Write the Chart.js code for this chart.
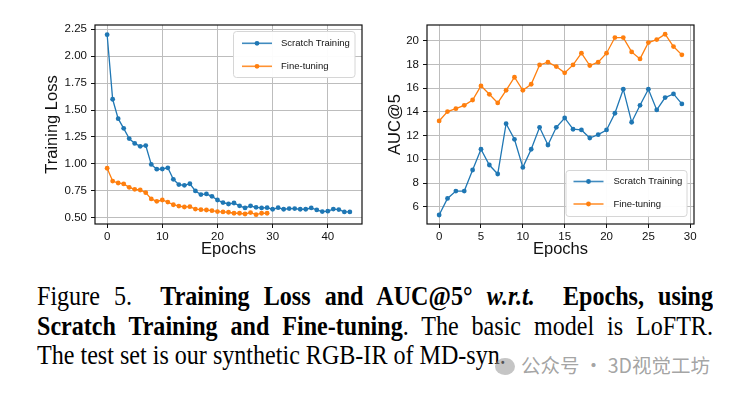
<!DOCTYPE html>
<html>
<head>
<meta charset="utf-8">
<script src="https://cdn.jsdelivr.net/npm/chart.js@4.4.1/dist/chart.umd.min.js"></script>
<style>
  body { margin: 0; background: #fff; width: 734px; height: 396px; overflow: hidden; position: relative; }
  #lossBox { position: absolute; left: 0; top: 0; }
  #aucBox { position: absolute; left: 370px; top: 0; }
  #caption { position: absolute; left: 37px; top: 281px; width: 786px; transform: scaleX(0.86); transform-origin: 0 0;
             font-family: "Liberation Serif", "Times New Roman", serif; font-size: 28px; line-height: 29.5px; color: #000; }
  .cap { text-align: justify; text-align-last: justify; }
  .cap.last { text-align-last: left; white-space: nowrap; }
  .wm { position: absolute; left: 495px; top: 353px; font-family: "Noto Sans CJK SC", sans-serif; font-size: 19.5px;
        line-height: 24px; color: rgba(140,140,140,0.8); white-space: nowrap; }
  .wm i { display: inline-block; width: 20px; height: 17px; border-radius: 50%; background: rgba(150,150,150,0.55);
          vertical-align: -2px; margin-right: 6px; }
</style>
</head>
<body>
<canvas id="lossBox" width="370" height="270"></canvas>
<canvas id="aucBox" width="364" height="270"></canvas>

<div id="caption">
  <div class="cap">Figure 5.&nbsp; <b>Training Loss and AUC@5° <i>w.r.t.</i>&nbsp; Epochs, using</b></div>
  <div class="cap"><b>Scratch Training and Fine-tuning</b>. The basic model is LoFTR.</div>
  <div class="cap last">The test set is our synthetic RGB-IR of MD-syn.</div>
</div>
<div class="wm"><i></i>公众号 · 3D视觉工坊</div>

<script>
/*************************************************
 * DATA
 *************************************************/
const SERIES_NAMES = ["Scratch Training", "Fine-tuning"];

// training loss per epoch
const LOSS_SCRATCH = [
  2.20, 1.60, 1.42, 1.33, 1.235, 1.19, 1.163, 1.17, 0.995, 0.95,
  0.952, 0.963, 0.856, 0.807, 0.80, 0.815, 0.748, 0.714, 0.72, 0.698,
  0.664, 0.64, 0.627, 0.636, 0.61, 0.59, 0.61, 0.596, 0.59, 0.593,
  0.578, 0.593, 0.578, 0.584, 0.584, 0.578, 0.578, 0.59, 0.572, 0.556,
  0.56, 0.58, 0.575, 0.553, 0.553
];
const LOSS_FINETUNE = [
  0.959, 0.84, 0.822, 0.813, 0.782, 0.763, 0.757, 0.732, 0.674, 0.652,
  0.664, 0.645, 0.62, 0.608, 0.599, 0.602, 0.58, 0.574, 0.571, 0.565,
  0.556, 0.553, 0.55, 0.541, 0.541, 0.534, 0.547, 0.528, 0.541, 0.541
];

// AUC@5 per epoch
const AUC_SCRATCH = [
  5.30, 6.70, 7.32, 7.32, 9.10, 10.85, 9.52, 8.76, 13.01, 11.69,
  9.32, 10.85, 12.70, 11.21, 12.70, 13.49, 12.54, 12.48, 11.80, 12.08,
  12.48, 13.89, 15.92, 13.13, 14.56, 15.92, 14.17, 15.21, 15.52, 14.68
];
const AUC_FINETUNE = [
  13.24, 14.03, 14.28, 14.56, 15.01, 16.20, 15.49, 14.76, 15.83, 16.93,
  15.83, 16.34, 17.97, 18.20, 17.83, 17.30, 17.97, 18.96, 17.92, 18.20,
  18.96, 20.28, 20.28, 19.07, 18.48, 19.86, 20.11, 20.56, 19.52, 18.82
];

const LOSS_X_TICKS = [0, 10, 20, 30, 40];
const LOSS_Y_TICKS = [0.50, 0.75, 1.00, 1.25, 1.50, 1.75, 2.00, 2.25];
const AUC_X_TICKS = [0, 5, 10, 15, 20, 25, 30];
const AUC_Y_TICKS = [6, 8, 10, 12, 14, 16, 18, 20];

const COLORS = ["#1f77b4", "#ff7f0e"];
const FONT = "'Liberation Sans', Arial, sans-serif";

/*************************************************
 * PLUGINS – frame + legend box
 *************************************************/
const framePlugin = {
  id: "frame",
  afterDraw(chart) {
    const { ctx, chartArea: a } = chart;
    ctx.save();
    ctx.strokeStyle = "#111";
    ctx.lineWidth = 1.2;
    ctx.strokeRect(a.left, a.top, a.right - a.left, a.bottom - a.top);
    ctx.restore();
  }
};

const boxLegendPlugin = {
  id: "boxLegend",
  afterDraw(chart, args, opt) {
    const ctx = chart.ctx;
    ctx.save();
    ctx.beginPath();
    ctx.roundRect(opt.x, opt.y, opt.w, opt.h, 3);
    ctx.fillStyle = "rgba(255,255,255,0.95)";
    ctx.fill();
    ctx.strokeStyle = "#d6d6d6";
    ctx.lineWidth = 1;
    ctx.stroke();

    chart.data.datasets.forEach((ds, i) => {
      const y = opt.rows[i];
      ctx.strokeStyle = ds.borderColor;
      ctx.globalAlpha = 0.85;
      ctx.lineWidth = 1.6;
      ctx.beginPath();
      ctx.moveTo(opt.x0, y);
      ctx.lineTo(opt.x1, y);
      ctx.stroke();
      ctx.globalAlpha = 1;
      ctx.fillStyle = ds.borderColor;
      ctx.beginPath();
      ctx.arc((opt.x0 + opt.x1) / 2, y, 2.4, 0, Math.PI * 2);
      ctx.fill();
      ctx.fillStyle = "#111";
      ctx.font = "9.5px " + FONT;
      ctx.textBaseline = "middle";
      ctx.fillText(ds.label, opt.tx, y);
    });
    ctx.restore();
  }
};

/*************************************************
 * CHART BUILDER
 *************************************************/
function buildChart(canvasId, s) {
  const datasets = s.series.map((vals, i) => ({
    label: SERIES_NAMES[i],
    data: vals.map((v, ep) => ({ x: ep, y: v })),
    borderColor: COLORS[i],
    backgroundColor: COLORS[i],
    borderWidth: 1.3,
    pointRadius: 2.4,
    pointBorderWidth: 0,
    pointBackgroundColor: COLORS[i],
    tension: 0
  }));

  return new Chart(document.getElementById(canvasId), {
    type: "line",
    data: { datasets },
    options: {
      responsive: false,
      animation: false,
      devicePixelRatio: 1,
      layout: { padding: { left: 0, top: 25, right: s.padRight, bottom: 0 } },
      plugins: {
        legend: { display: false },
        tooltip: { enabled: false },
        boxLegend: s.legend
      },
      scales: {
        x: {
          type: "linear",
          min: s.xMin, max: s.xMax,
          afterBuildTicks: sc => { sc.ticks = s.xTicks.map(v => ({ value: v })); },
          afterFit: sc => { sc.height = 46; },
          grid: { color: "#bdbdbd", lineWidth: 1, tickLength: 4, tickColor: "#111" },
          border: { display: false },
          ticks: { color: "#111", font: { family: FONT, size: 11.5 }, padding: 2, maxRotation: 0 },
          title: { display: true, text: "Epochs", color: "#111", font: { family: FONT, size: 16.5 },
                   padding: { top: 0, bottom: 10.6 } }
        },
        y: {
          min: s.yMin, max: s.yMax,
          afterBuildTicks: sc => { sc.ticks = s.yTicks.map(v => ({ value: v })); },
          afterFit: sc => { sc.width = s.yWidth; },
          grid: { color: "#bdbdbd", lineWidth: 1, tickLength: 4, tickColor: "#111" },
          border: { display: false },
          ticks: { color: "#111", font: { family: FONT, size: 11.5 }, padding: 4,
                   callback: v => v.toFixed(s.decimals) },
          title: { display: true, text: s.yTitle, color: "#111", font: { family: FONT, size: 16.5 },
                   padding: { top: s.yTitlePad, bottom: 0 } }
        }
      }
    },
    plugins: [framePlugin, boxLegendPlugin]
  });
}

/*************************************************
 * START
 *************************************************/
buildChart("lossBox", {
  series: [LOSS_SCRATCH, LOSS_FINETUNE],
  xMin: -2.2, xMax: 46.2, yMin: 0.441, yMax: 2.29,
  xTicks: LOSS_X_TICKS, yTicks: LOSS_Y_TICKS, decimals: 2,
  yTitle: "Training Loss", yTitlePad: 42.8, yWidth: 95, padRight: 8,
  legend: { x: 233.5, y: 31.5, w: 121.5, h: 46, rows: [43.3, 66.3], x0: 242, x1: 272, tx: 281 }
});

buildChart("aucBox", {
  series: [AUC_SCRATCH, AUC_FINETUNE],
  xMin: -1.45, xMax: 30.45, yMin: 4.54, yMax: 21.34,
  xTicks: AUC_X_TICKS, yTicks: AUC_Y_TICKS, decimals: 0,
  yTitle: "AUC@5", yTitlePad: 15.1, yWidth: 57, padRight: 40,
  legend: { x: 196, y: 170.5, w: 121, h: 46, rows: [181.5, 204], x0: 203.5, x1: 233.5, tx: 243.5 }
});
</script>
</body>
</html>
